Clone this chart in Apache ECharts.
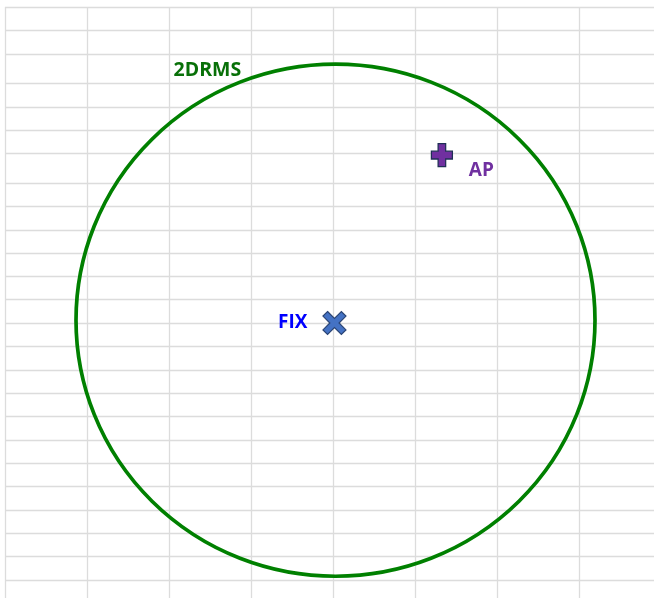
<!DOCTYPE html>
<html>
<head>
<meta charset="utf-8">
<script src="https://cdn.jsdelivr.net/npm/echarts@6/dist/echarts.min.js"></script>
<style>
html,body{margin:0;padding:0;background:#fff;}
#chart{width:654px;height:598px;}
</style>
</head>
<body>
<div id="chart"></div>
<script>
// ---- data (metres, relative to the fix) ----
const fixPoint = [-0.04, -0.11];
const apPoint = [4.1, 6.45];
const circleCenter = [0, 0];
const drms2 = 10;           // 2DRMS radius
const labels = { fix: 'FIX', ap: 'AP', circle: '2DRMS' };

// ---- spreadsheet background layout (sheet pixels) ----
const sheetColEdges = [5.5, 87.5, 169.5, 251.5, 333.5, 415.5, 497.5, 579.5];
const sheetRowEdges = [7.5, 30.5, 54.5, 83.5, 107.5, 130.5, 153.5, 183.5, 206.5, 230.5, 253.5, 276.5,
  299.5, 323.5, 346.5, 370.5, 393.5, 416.5, 440.5, 463.5, 486.5, 510.5, 533.5, 556.5, 580.5];

const chart = echarts.init(document.getElementById('chart'), null, { renderer: 'canvas' });

const gridLineData = [];
sheetColEdges.forEach(x => gridLineData.push([x, sheetRowEdges[0] - 0.5, x, 598]));
sheetRowEdges.forEach(y => gridLineData.push([sheetColEdges[0] - 0.5, y, 654, y]));

const xPath = 'path://M2,0 L5,3 L8,0 L10,2 L7,5 L10,8 L8,10 L5,7 L2,10 L0,8 L3,5 L0,2 Z';
const plusPath = 'path://M3.2,0 H6.8 V3.3 H10 V6.7 H6.8 V10 H3.2 V6.7 H0 V3.3 H3.2 Z';
const fontFamily = '"Open Sans", "Liberation Sans", sans-serif';

chart.setOption({
  animation: false,
  backgroundColor: '#ffffff',
  grid: [
    { left: 0, top: 0, width: 654, height: 598, containLabel: false },
    { left: 24.1, top: 38.6, width: 622.8, height: 537.6, containLabel: false }
  ],
  xAxis: [
    { gridIndex: 0, type: 'value', min: 0, max: 654, show: false },
    { gridIndex: 1, type: 'value', min: -12, max: 12, show: false }
  ],
  yAxis: [
    { gridIndex: 0, type: 'value', min: 0, max: 598, inverse: true, show: false },
    { gridIndex: 1, type: 'value', min: -10, max: 11, show: false }
  ],
  series: [
    {
      type: 'custom',
      xAxisIndex: 0, yAxisIndex: 0,
      silent: true,
      z: 0,
      data: gridLineData,
      renderItem: function (params, api) {
        const a = api.coord([api.value(0), api.value(1)]);
        const b = api.coord([api.value(2), api.value(3)]);
        return {
          type: 'line',
          shape: { x1: a[0], y1: a[1], x2: b[0], y2: b[1] },
          style: { stroke: '#dcdcdc', lineWidth: 1.3 }
        };
      }
    },
    {
      type: 'custom',
      xAxisIndex: 1, yAxisIndex: 1,
      silent: true,
      z: 2,
      data: [[circleCenter[0], circleCenter[1], drms2]],
      renderItem: function (params, api) {
        const c = api.coord([api.value(0), api.value(1)]);
        const sz = api.size([api.value(2), api.value(2)]);
        const rx = sz[0], ry = sz[1];
        return {
          type: 'group',
          children: [
            {
              type: 'circle',
              shape: { cx: c[0], cy: c[1], r: rx },
              originX: c[0], originY: c[1],
              scaleY: ry / rx,
              style: { fill: 'none', stroke: '#008000', lineWidth: 3.7 }
            },
            {
              type: 'text',
              x: c[0] - 0.624 * rx,
              y: c[1] - 0.977 * ry,
              style: {
                text: labels.circle,
                fill: '#087008',
                font: 'bold 19.5px ' + fontFamily,
                align: 'left',
                verticalAlign: 'middle'
              }
            }
          ]
        };
      }
    },
    {
      type: 'scatter',
      xAxisIndex: 1, yAxisIndex: 1,
      z: 3,
      symbol: xPath,
      symbolSize: 23,
      data: [fixPoint],
      itemStyle: { color: '#4472C4', borderColor: '#2A4474', borderWidth: 1.2, opacity: 1 },
      label: {
        show: true,
        formatter: labels.fix,
        position: 'left',
        distance: 15,
        color: '#0000FF',
        fontWeight: 'bold',
        fontSize: 19,
        fontFamily: fontFamily
      }
    },
    {
      type: 'scatter',
      xAxisIndex: 1, yAxisIndex: 1,
      z: 3,
      symbol: plusPath,
      symbolSize: [21, 23],
      data: [apPoint],
      itemStyle: { color: '#7030A0', borderColor: '#1F2F55', borderWidth: 1.3, opacity: 1 },
      label: {
        show: true,
        formatter: labels.ap,
        position: [38, 28],
        align: 'left',
        verticalAlign: 'middle',
        color: '#7030A0',
        fontWeight: 'bold',
        fontSize: 19,
        fontFamily: fontFamily
      }
    }
  ]
});
</script>
</body>
</html>
